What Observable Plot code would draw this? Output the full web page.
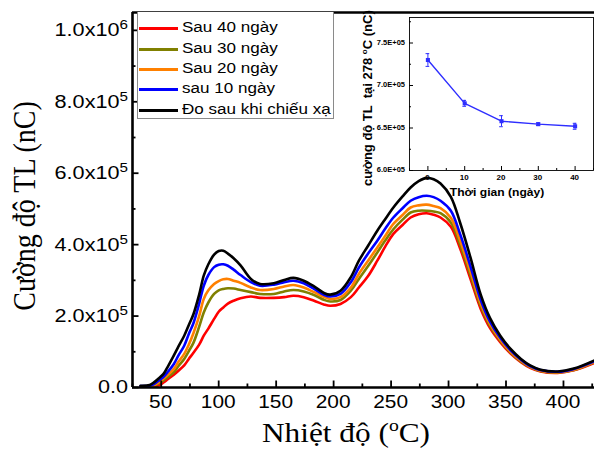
<!DOCTYPE html>
<html>
<head>
<meta charset="utf-8">
<script src="https://cdn.jsdelivr.net/npm/d3@7"></script>
<script src="https://cdn.jsdelivr.net/npm/@observablehq/plot@0.6"></script>
<style>
  html,body{margin:0;padding:0;background:#fff;}
  #wrap{position:relative;width:594px;height:449px;overflow:hidden;background:#fff;}
  #wrap svg{position:absolute;overflow:visible;}
  #legend{position:absolute;left:137px;top:12px;width:197px;height:107px;box-sizing:border-box;border:1px solid #8a8a8a;border-top:none;background:#fff;font-family:"Liberation Sans",Arial,sans-serif;font-size:15.5px;color:#000;}
  .row{position:absolute;left:0;width:100%;height:0;}
  .sw{position:absolute;left:1px;top:-1.5px;width:39px;height:3px;}
  .lb{position:absolute;left:44px;top:-9px;white-space:nowrap;transform:scaleX(1.1);transform-origin:0 50%;line-height:1;}
</style>
</head>
<body>
<div id="wrap"></div>
<script>
// ---------- data ----------
const temperature = [32, 40, 44, 48, 52, 56, 61, 65, 70, 74,
  78, 83, 87, 91, 96, 100, 104, 108, 113, 119,
  128, 136, 148, 157, 165, 174, 183, 192, 197, 206,
  215, 222, 230, 238, 245, 252, 260, 267, 274, 281,
  287, 293, 302, 310, 319, 328, 336, 345, 354, 363,
  371, 380, 395, 409, 427];

// intensities in units of 1e5 nC
const sau40_e5 = [0.02, 0.03, 0.04, 0.06, 0.14, 0.24, 0.36, 0.47, 0.62, 0.8,
  0.97, 1.2, 1.45, 1.65, 1.92, 2.12, 2.24, 2.35, 2.43, 2.5,
  2.55, 2.51, 2.51, 2.53, 2.57, 2.53, 2.43, 2.32, 2.29, 2.34,
  2.53, 2.8, 3.12, 3.55, 3.95, 4.3, 4.55, 4.76, 4.85, 4.88,
  4.84, 4.76, 4.5, 3.9, 3.05, 2.2, 1.67, 1.27, 0.95, 0.71,
  0.55, 0.45, 0.41, 0.48, 0.69];
const sau30_e5 = [0.03, 0.04, 0.06, 0.12, 0.2, 0.3, 0.43, 0.6, 0.8, 1.02,
  1.25, 1.7, 2.1, 2.38, 2.62, 2.72, 2.76, 2.78, 2.77, 2.73,
  2.67, 2.62, 2.62, 2.69, 2.73, 2.69, 2.59, 2.45, 2.41, 2.45,
  2.71, 3.04, 3.4, 3.78, 4.12, 4.43, 4.7, 4.9, 4.95, 4.95,
  4.93, 4.88, 4.62, 4.0, 3.15, 2.28, 1.73, 1.31, 0.98, 0.73,
  0.57, 0.46, 0.42, 0.49, 0.71];
const sau20_e5 = [0.03, 0.04, 0.07, 0.15, 0.25, 0.36, 0.52, 0.72, 0.94, 1.2,
  1.52, 2.0, 2.48, 2.72, 2.9, 2.98, 3.03, 3.04, 2.99, 2.93,
  2.8, 2.73, 2.76, 2.83, 2.87, 2.8, 2.67, 2.53, 2.48, 2.53,
  2.8, 3.18, 3.55, 3.92, 4.25, 4.58, 4.83, 5.04, 5.1, 5.12,
  5.08, 5.02, 4.75, 4.12, 3.25, 2.35, 1.78, 1.34, 1.0, 0.75,
  0.58, 0.47, 0.43, 0.5, 0.72];
const sau10_e5 = [0.04, 0.05, 0.1, 0.2, 0.3, 0.45, 0.66, 0.9, 1.17, 1.5,
  1.8, 2.35, 2.85, 3.15, 3.37, 3.44, 3.45, 3.41, 3.3, 3.15,
  2.95, 2.85, 2.88, 2.95, 2.99, 2.92, 2.76, 2.59, 2.55, 2.62,
  2.95, 3.36, 3.75, 4.11, 4.45, 4.76, 5.02, 5.23, 5.33, 5.37,
  5.33, 5.23, 4.95, 4.3, 3.4, 2.45, 1.85, 1.39, 1.04, 0.78,
  0.6, 0.49, 0.44, 0.52, 0.74];
const doSau_e5 = [0.05, 0.07, 0.15, 0.26, 0.38, 0.6, 0.9, 1.15, 1.45, 1.75,
  2.05, 2.6, 3.13, 3.45, 3.72, 3.82, 3.83, 3.75, 3.62, 3.42,
  3.04, 2.9, 2.92, 3.01, 3.07, 2.99, 2.83, 2.64, 2.6, 2.71,
  3.09, 3.55, 3.97, 4.39, 4.72, 5.04, 5.35, 5.6, 5.78, 5.87,
  5.83, 5.71, 5.34, 4.62, 3.65, 2.6, 1.95, 1.45, 1.08, 0.8,
  0.62, 0.5, 0.45, 0.53, 0.76];

const seriesNames = ["Sau 40 ngày", "Sau 30 ngày", "Sau 20 ngày", "sau 10 ngày", "Đo sau khi chiếu xạ"];
const seriesColors = ["#ff0000", "#808000", "#ff8000", "#0000ff", "#000000"];
const seriesValues = [sau40_e5, sau30_e5, sau20_e5, sau10_e5, doSau_e5];

const xDomain = [25, 427];
const yDomain = [0, 1.05e6];
const xTicks = [50, 100, 150, 200, 250, 300, 350, 400];
const xMinorTicks = [25, 75, 125, 175, 225, 275, 325, 375, 425];
const yTicks = [0, 2e5, 4e5, 6e5, 8e5, 1e6];
const yTickLabels = [["0.0", ""], ["2.0x10", "5"], ["4.0x10", "5"], ["6.0x10", "5"], ["8.0x10", "5"], ["1.0x10", "6"]];
const yMinorTicks = [1e5, 3e5, 5e5, 7e5, 9e5];

// inset: TL intensity at 278 °C vs time
const days = [0, 10, 20, 30, 40];
const intensity278 = [7.30e5, 6.79e5, 6.58e5, 6.545e5, 6.52e5];
const err278 = [0.075e5, 0.035e5, 0.065e5, 0.015e5, 0.035e5];
const insetXDomain = [-5, 45];
const insetYDomain = [6e5, 7.8e5];
const insetXMinor = [-5, 5, 15, 25, 35, 45];
const insetYTicks = [6e5, 6.5e5, 7e5, 7.5e5];
const insetYTickLabels = ["6.0E+05", "6.5E+05", "7.0E+05", "7.5E+05"];
const insetYMinor = [6.25e5, 6.75e5, 7.25e5, 7.75e5];
const insetBlue = "#2e2eff";

// ---------- main plot ----------
const rows = seriesNames.map((s, k) => temperature.map((t, i) => ({series: s, t, v: seriesValues[k][i] * 1e5})));

const main = Plot.plot({
  width: 594, height: 449,
  marginLeft: 132, marginRight: 0, marginTop: 12, marginBottom: 62,
  style: {fontFamily: "'Liberation Sans', Arial, sans-serif", fontSize: "18px", color: "#000", background: "transparent", overflow: "visible"},
  x: {domain: xDomain},
  y: {domain: yDomain},
  marks: [
    ...rows.map((r, k) => Plot.line(r, {x: "t", y: "v", stroke: seriesColors[k], strokeWidth: 2.6, curve: "catmull-rom"})),
    Plot.axisX(xMinorTicks, {tickSize: -3.5, fill: "none", strokeWidth: 1.8, label: null}),
    Plot.axisX(xTicks, {tickSize: -6.5, fill: "none", strokeWidth: 1.8, label: null}),
    Plot.axisY(yMinorTicks, {tickSize: -3.5, fill: "none", strokeWidth: 1.8, label: null}),
    Plot.axisY(yTicks, {tickSize: -6.5, fill: "none", strokeWidth: 1.8, label: null}),
    Plot.ruleX([xDomain[0]], {strokeWidth: 2.6}),
    Plot.ruleY([yDomain[0]], {strokeWidth: 2.6}),
    Plot.ruleY([yDomain[1]], {strokeWidth: 2.6})
  ]
});

const sx = main.scale("x"), sy = main.scale("y");
const sm = d3.select(main);
const fontSans = "'Liberation Sans', Arial, sans-serif";
const fontSerif = "'Liberation Serif','Times New Roman',serif";

// x tick labels
xTicks.forEach(t => {
  sm.append("text")
    .attr("transform", `translate(${sx.apply(t)},${sy.apply(yDomain[0]) + 8}) scale(1.16,1)`)
    .attr("dy", "0.71em").attr("text-anchor", "middle")
    .attr("font-family", fontSans).attr("font-size", 18).attr("fill", "#000")
    .text(t);
});
// y tick labels with superscripts
yTicks.forEach((v, i) => {
  const [base, sup] = yTickLabels[i];
  const tx = sm.append("text")
    .attr("transform", `translate(${sx.apply(xDomain[0]) - 4},${sy.apply(v)}) scale(1.17,1)`)
    .attr("dy", "0.35em").attr("text-anchor", "end")
    .attr("font-family", fontSans).attr("font-size", 18.5).attr("fill", "#000");
  tx.append("tspan").text(base);
  if (sup) tx.append("tspan").attr("dy", -7).attr("font-size", 13).text(sup);
});

sm.append("text")
  .attr("transform", "translate(35,206) scale(1.1,1) rotate(-90)")
  .attr("text-anchor", "middle")
  .attr("font-family", fontSerif)
  .attr("font-size", 28)
  .attr("fill", "#000")
  .text("Cường độ TL (nC)");
const xt = sm.append("text")
  .attr("transform", "translate(346,442) scale(1.16,1)")
  .attr("text-anchor", "middle")
  .attr("font-family", fontSerif)
  .attr("font-size", 27)
  .attr("fill", "#000");
xt.append("tspan").text("Nhiệt độ (");
xt.append("tspan").attr("dy", -11).attr("font-size", 17).text("o");
xt.append("tspan").attr("dy", 11).text("C)");

// ---------- inset ----------
const insetRows = days.map((d, i) => ({day: d, v: intensity278[i], lo: intensity278[i] - err278[i], hi: intensity278[i] + err278[i]}));
const inset = Plot.plot({
  width: 234, height: 200,
  marginLeft: 49, marginRight: 1, marginTop: 17, marginBottom: 30,
  style: {fontFamily: fontSans, fontSize: "8px", fontWeight: "bold", color: "#000", background: "transparent", overflow: "visible"},
  x: {domain: insetXDomain},
  y: {domain: insetYDomain},
  marks: [
    Plot.frame({stroke: "#000", strokeWidth: 0.9}),
    Plot.axisX(insetXMinor, {tickSize: -2, fill: "none", label: null}),
    Plot.axisX(days, {tickSize: -4, fill: "none", label: null}),
    Plot.axisY(insetYMinor, {tickSize: -2, fill: "none", label: null}),
    Plot.axisY(insetYTicks, {tickSize: -4, fill: "none", label: null}),
    Plot.ruleX(insetRows, {x: "day", y1: "lo", y2: "hi", stroke: insetBlue, strokeWidth: 1}),
    Plot.ruleY(insetRows, {y: "hi", x1: d => d.day - 0.5, x2: d => d.day + 0.5, stroke: insetBlue, strokeWidth: 1}),
    Plot.ruleY(insetRows, {y: "lo", x1: d => d.day - 0.5, x2: d => d.day + 0.5, stroke: insetBlue, strokeWidth: 1}),
    Plot.line(insetRows, {x: "day", y: "v", stroke: insetBlue, strokeWidth: 1.4}),
    Plot.dot(insetRows, {x: "day", y: "v", symbol: "square", r: 2.3, fill: insetBlue, stroke: "none"})
  ]
});
const ix = inset.scale("x"), iy = inset.scale("y");
const si = d3.select(inset);
days.forEach(d => {
  si.append("text")
    .attr("x", ix.apply(d)).attr("y", iy.apply(insetYDomain[0]) + 4)
    .attr("dy", "0.71em").attr("text-anchor", "middle")
    .attr("font-family", fontSans).attr("font-size", 8).attr("font-weight", "bold").attr("fill", "#000")
    .text(d);
});
insetYTicks.forEach((v, i) => {
  si.append("text")
    .attr("x", ix.apply(insetXDomain[0]) - 4).attr("y", iy.apply(v))
    .attr("dy", "0.32em").attr("text-anchor", "end")
    .attr("font-family", fontSans).attr("font-size", 7.5).attr("font-weight", "bold").attr("fill", "#000")
    .text(insetYTickLabels[i]);
});
si.append("text")
  .attr("transform", "translate(137,196) scale(1.1,1)")
  .attr("text-anchor", "middle")
  .attr("font-family", fontSans)
  .attr("font-size", 11).attr("font-weight", "bold").attr("fill", "#000")
  .text("Thời gian (ngày)");
const yt = si.append("text")
  .attr("transform", "translate(12,186) rotate(-90)")
  .attr("text-anchor", "start")
  .attr("font-family", fontSans)
  .attr("font-size", 13).attr("font-weight", "bold").attr("fill", "#000")
  .style("white-space", "pre");
yt.append("tspan").text("cường độ TL  tại 278 ");
yt.append("tspan").attr("dy", -5).attr("font-size", 8).text("o");
yt.append("tspan").attr("dy", 5).text("C (nC)");

// ---------- assemble ----------
const wrap = document.getElementById("wrap");
inset.style.left = "360px"; inset.style.top = "0px";
main.style.left = "0px"; main.style.top = "0px";
wrap.appendChild(inset);
wrap.appendChild(main);

const legend = document.createElement("div");
legend.id = "legend";
const rowY = [16, 37, 57, 77, 98];
seriesNames.forEach((name, k) => {
  const row = document.createElement("div");
  row.className = "row";
  row.style.top = rowY[k] + "px";
  const sw = document.createElement("div");
  sw.className = "sw"; sw.style.background = seriesColors[k];
  const lb = document.createElement("span");
  lb.className = "lb"; lb.textContent = name;
  row.appendChild(sw); row.appendChild(lb);
  legend.appendChild(row);
});
wrap.appendChild(legend);
</script>
</body>
</html>
